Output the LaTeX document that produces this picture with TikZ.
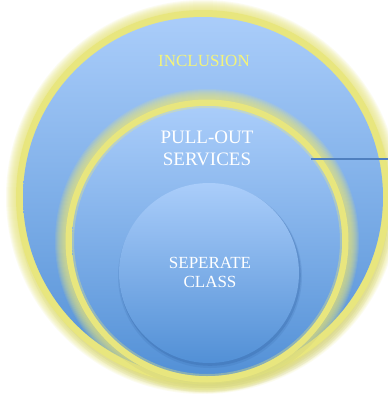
\documentclass[tikz,border=0pt]{standalone}
\usepackage{fontspec}
\setmainfont{Liberation Serif}
\definecolor{blueTop}{HTML}{AACDFA}
\definecolor{blueBot}{HTML}{5290D6}
\definecolor{blueMid}{HTML}{7EAEE8}
\definecolor{glowc}{HTML}{E8E67E}
\definecolor{inclc}{HTML}{F4F47A}
\definecolor{lineblue}{HTML}{4F7FBF}
\definecolor{shadowc}{HTML}{2E5E9E}
\tikzset{
  disc/.style={circle, inner sep=0pt, top color=blueTop, bottom color=blueBot},
  lbl/.style={align=center, text=white},
}
% soft ring: #1 centre, #2 radius (pt), #3 colour, #4 core width
\newcommand\softring[4]{%
  \foreach \w in {16,18,...,34}{%
    \draw[draw=#3, line width=\w pt, opacity=0.12] (#1) circle (#2 pt);}%
  \draw[draw=#3, line width=#4 pt] (#1) circle (#2 pt);%
}
\begin{document}
\begin{tikzpicture}[x=1pt,y=-1pt]
\useasboundingbox[fill=white] (0,0) rectangle (388,394);
% outer circle
\coordinate (oc) at (203,197);
\coordinate (os) at (205,204);
\foreach \r in {182,184,186,188}{\fill[black, opacity=0.05] (os) circle (\r pt);}
\softring{oc}{180}{glowc}{14}
\fill[blueMid] (oc) circle (179pt);
\node[disc, minimum size=360pt] (outer) at (oc) {};
% middle circle
\coordinate (mc) at (207,241);
\coordinate (ms) at (209,246);
\foreach \r in {138,140,142}{\fill[shadowc, opacity=0.06] (ms) circle (\r pt);}
\softring{mc}{135}{glowc}{13}
\fill[blueMid] (mc) circle (134pt);
\node[disc, minimum size=270pt] (middle) at (mc) {};
\draw[glowc, line width=2pt, opacity=0.35] (mc) circle (134pt);
% inner circle
\coordinate (ic) at (209,273);
\fill[shadowc, opacity=0.15] (210,276) circle (92pt);
\fill[shadowc, opacity=0.25] (210,275) circle (90.8pt);
\node[disc, minimum size=180pt] (inner) at (ic) {};
% labels
\node[text=inclc, font=\fontsize{17}{20}\selectfont] (tincl) at (204,60.5) {INCLUSION};
\node[lbl, font=\fontsize{19}{22}\selectfont] (tpull) at (207,148) {PULL-OUT\\SERVICES};
\node[lbl, font=\fontsize{17}{18.5}\selectfont] (tsep) at (210,272.5) {SEPERATE\\CLASS};
% connector
\coordinate (l1) at (311,159);
\coordinate (l2) at (388,159);
\draw[lineblue, line width=2pt] (l1) -- (l2);
\end{tikzpicture}
\end{document}
